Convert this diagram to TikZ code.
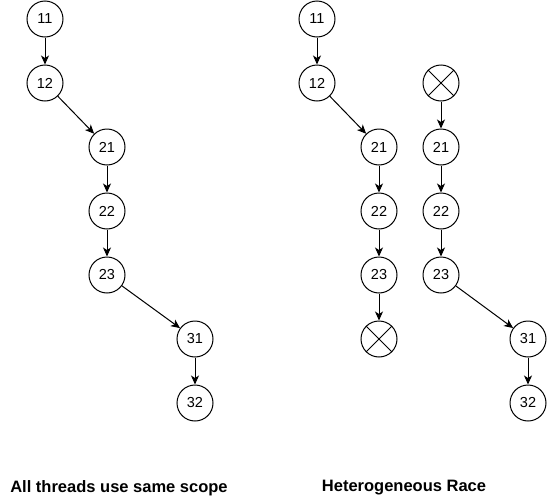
\documentclass[tikz,border=0pt]{standalone}
\usepackage{fontspec}
\setmainfont{Liberation Sans}
\usepackage{tikz}
\usetikzlibrary{arrows.meta}
\tikzstyle{event} = [circle, draw=black, line width=1pt, minimum size=36pt, inner sep=0pt, fill=white, font=\fontsize{14.5}{16}\selectfont]
\tikzstyle{arrow} = [line width=1pt, -{Stealth[length=9pt, width=8pt, inset=2.5pt]}]
\tikzstyle{caption} = [font=\fontsize{16.5}{19}\selectfont\bfseries]

\begin{document}
\begin{tikzpicture}[x=1pt, y=1pt, node distance=64pt]
\fill[white] (0,0) rectangle (547,-501);
\useasboundingbox (0,0) rectangle (547,-501);

% Same scope
\node (l11) [event] at (45,-19) {11};
\node (l12) [event, below of=l11] {12};
\node (l21) [event, below of=l12, xshift=62pt] {21};
\node (l22) [event, below of=l21] {22};
\node (l23) [event, below of=l22] {23};
\node (l31) [event, below of=l23, xshift=88pt] {31};
\node (l32) [event, below of=l31] {32};

% Heterogeneous race, first thread
\node (r11) [event] at (317,-19) {11};
\node (r12) [event, below of=r11] {12};
\node (r21) [event, below of=r12, xshift=62pt] {21};
\node (r22) [event, below of=r21] {22};
\node (r23) [event, below of=r22] {23};
\node (rx) [event, below of=r23] {};

% Heterogeneous race, second thread
\node (sx) [event, right of=r12, xshift=60pt] {};
\node (s21) [event, below of=sx] {21};
\node (s22) [event, below of=s21] {22};
\node (s23) [event, below of=s22] {23};
\node (s31) [event, below of=s23, xshift=87pt] {31};
\node (s32) [event, below of=s31] {32};

% Crosses
\draw [line width=1pt] (rx.45) -- (rx.225) (rx.135) -- (rx.315);
\draw [line width=1pt] (sx.45) -- (sx.225) (sx.135) -- (sx.315);

% Captions
\node (samescope) [caption] at (119,-488) {All threads use same scope};
\node (hetrace) [caption] at (404,-488) {Heterogeneous Race};

% Arrows
\draw [arrow] (l11) -- (l12);
\draw [arrow] (l12) -- (l21);
\draw [arrow] (l21) -- (l22);
\draw [arrow] (l22) -- (l23);
\draw [arrow] (l23) -- (l31);
\draw [arrow] (l31) -- (l32);
\draw [arrow] (r11) -- (r12);
\draw [arrow] (r12) -- (r21);
\draw [arrow] (r21) -- (r22);
\draw [arrow] (r22) -- (r23);
\draw [arrow] (r23) -- (rx);
\draw [arrow] (sx) -- (s21);
\draw [arrow] (s21) -- (s22);
\draw [arrow] (s22) -- (s23);
\draw [arrow] (s23) -- (s31);
\draw [arrow] (s31) -- (s32);

\end{tikzpicture}
\end{document}
